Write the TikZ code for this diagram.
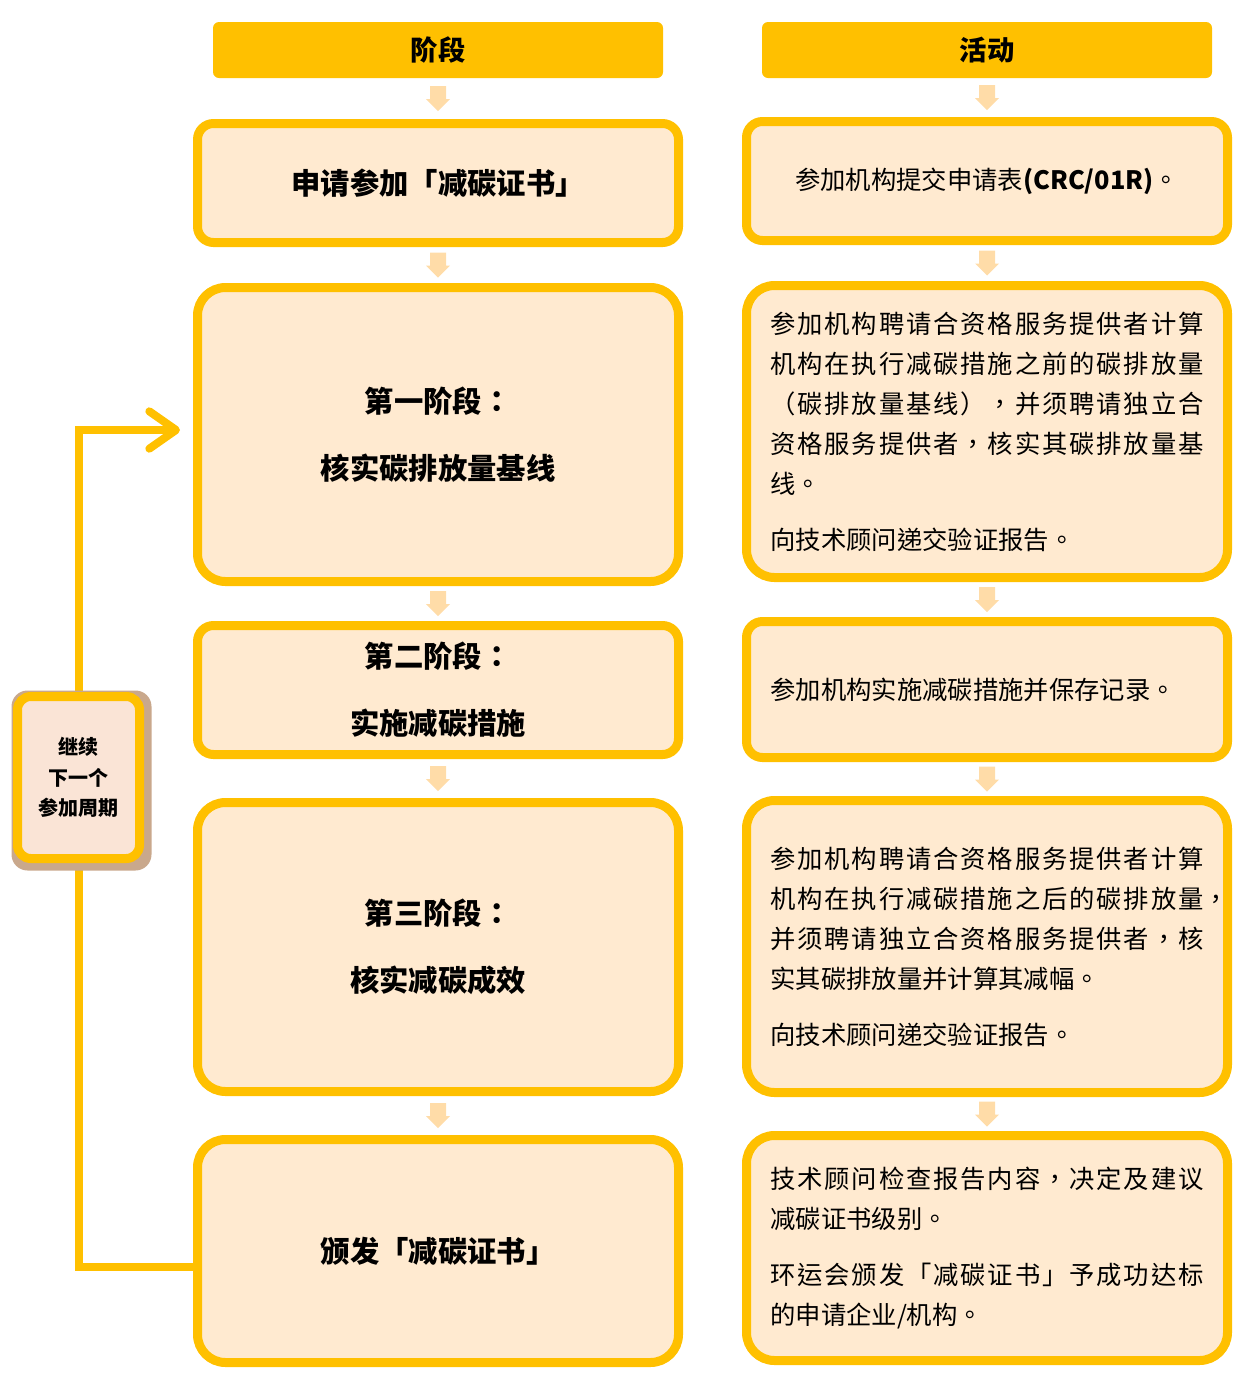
\documentclass[tikz,border=0pt]{standalone}
\usepackage{fontspec}
\setmainfont{Noto Sans CJK TC}
\usetikzlibrary{arrows.meta,calc,backgrounds}
\definecolor{orng}{HTML}{FFC000}
\definecolor{boxfill}{HTML}{FFEAD0}
\definecolor{sidefill}{HTML}{FAE4D6}
\definecolor{arrfill}{HTML}{FFDCA8}
\definecolor{shadowc}{HTML}{C9A88C}
\newcommand\myjstop{}
\def\jsp#1{#1\jspnext}
\def\jspnext#1{\ifx#1\myjstop\else\hfil#1\expandafter\jspnext\fi}
\newcommand\jline[1]{\leavevmode\hbox to 325pt{\jsp#1\myjstop}}
\begin{document}
\begin{tikzpicture}[x=0.75pt,y=-0.75pt,
  hdr/.style={fill=orng, rounded corners=4.5pt, minimum width=337.5pt, minimum height=42pt,
    font=\bfseries\fontsize{20.5}{24}\selectfont, inner sep=0pt},
  stagebox/.style={draw=orng, line width=6.75pt, fill=boxfill, minimum width=360.75pt,
    align=center, font=\bfseries\fontsize{22}{50.25}\selectfont, inner sep=0pt},
  actbox/.style={draw=orng, line width=6.75pt, fill=boxfill, minimum width=360.75pt,
    text width=325pt, align=left, font=\fontsize{19}{30}\selectfont, inner sep=0pt},
  bigr/.style={rounded corners=21pt},
  smallr/.style={rounded corners=12pt},
  sidebox/.style={draw=orng, line width=6.75pt, fill=sidefill, rounded corners=10pt,
    minimum width=91.5pt, minimum height=121.5pt, align=center,
    font=\bfseries\fontsize{15}{23}\selectfont, inner sep=0pt},
  loopl/.style={draw=orng, line width=6pt},
  darrow/.pic={\fill[arrfill] (-8,-12.5) -- (8,-12.5) -- (8,0.5) -- (12,0.5) -- (0,12.5) -- (-12,0.5) -- (-8,0.5) -- cycle;}
]
\useasboundingbox (0,0) rectangle (1254,1375);

% headers
\node[hdr] (H1) at (438,50) {阶段};
\node[hdr] (H2) at (987,50) {活动};

% stage boxes
\node[stagebox, smallr, minimum height=89.25pt] (L1) at (438,183) {申请参加「减碳证书」};
\node[stagebox, bigr, minimum height=220.5pt] (L2) at (438,434.5) {第一阶段：\\核实碳排放量基线};
\node[stagebox, smallr, minimum height=96.75pt] (L3) at (438,690) {第二阶段：\\实施减碳措施};
\node[stagebox, bigr, minimum height=216.75pt] (L4) at (438,947) {第三阶段：\\核实减碳成效};
\node[stagebox, bigr, minimum height=167.25pt] (L5) at (438,1251) {颁发「减碳证书」};

% activity boxes
\node[actbox, smallr, minimum height=89.25pt, align=center] (R1) at (987,181) {参加机构提交申请表\textbf{(CRC/01R)}。};
\node[actbox, bigr, minimum height=219pt] (R2) at (987,431.5) {\jline{参加机构聘请合资格服务提供者计算}\\
\jline{机构在执行减碳措施之前的碳排放量}\\
\jline{（碳排放量基线），并须聘请独立合}\\
\jline{资格服务提供者，核实其碳排放量基}\\
线。\\[12pt]
向技术顾问递交验证报告。};
\node[actbox, smallr, minimum height=102pt] (R3) at (987,689.5) {参加机构实施减碳措施并保存记录。};
\node[actbox, bigr, minimum height=219pt] (R4) at (987,946.5) {\jline{参加机构聘请合资格服务提供者计算}\\
\jline{机构在执行减碳措施之后的碳排放量}\rlap{，}\\
\jline{并须聘请独立合资格服务提供者，核}\\
实其碳排放量并计算其减幅。\\[12pt]
向技术顾问递交验证报告。};
\node[actbox, bigr, minimum height=168.75pt] (R5) at (987,1248) {\jline{技术顾问检查报告内容，决定及建议}\\
减碳证书级别。\\[12pt]
\jline{环运会颁发「减碳证书」予成功达标}\\
的申请企业/机构。};

% side box
\node[sidebox] (S) at (78.5,777.5) {继续\\下一个\\参加周期};

% block arrows
\pic at ($(H1.south)!0.5!(L1.north)$) {darrow};
\pic at ($(L1.south)!0.5!(L2.north)$) {darrow};
\pic at ($(L2.south)!0.5!(L3.north)$) {darrow};
\pic at ($(L3.south)!0.5!(L4.north)$) {darrow};
\pic at ($(L4.south)!0.5!(L5.north)$) {darrow};
\pic at ($(H2.south)!0.5!(R1.north)$) {darrow};
\pic at ($(R1.south)!0.5!(R2.north)$) {darrow};
\pic at ($(R2.south)!0.5!(R3.north)$) {darrow};
\pic at ($(R3.south)!0.5!(R4.north)$) {darrow};
\pic at ($(R4.south)!0.5!(R5.north)$) {darrow};

% loop connector
\coordinate (loopend) at (180,430);
\begin{scope}[on background layer]
\draw[loopl] ([yshift=-12pt]L5.west) -| (S.south);
\draw[loopl, -{Straight Barb[length=20pt,width=28pt,round]}] (S.north) |- (loopend);
\fill[shadowc, rounded corners=12pt]
  ([shift={(-1.5,-1.5)}]S.north west) rectangle ([shift={(7.5,7.5)}]S.south east);
\end{scope}
\end{tikzpicture}
\end{document}
